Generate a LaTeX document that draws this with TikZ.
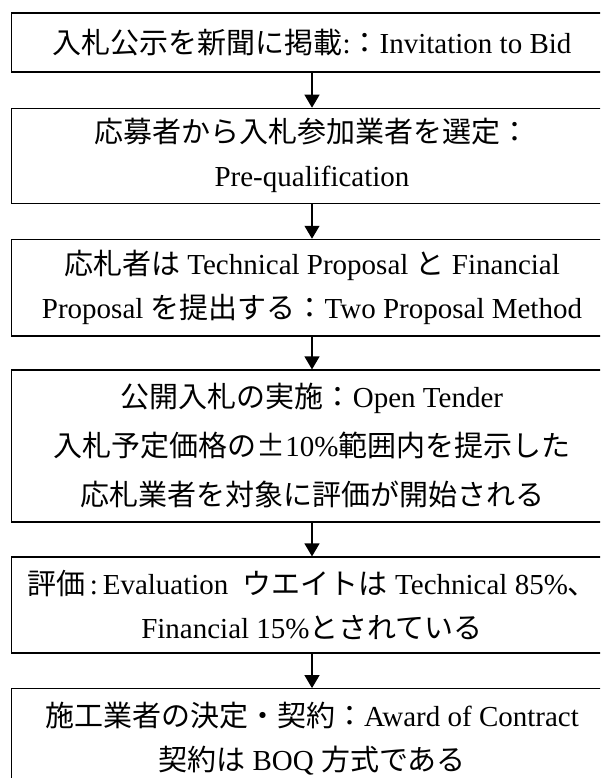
\documentclass[tikz,border=0pt]{standalone}
\usepackage{fontspec}
\setmainfont{Liberation Serif}
\newfontfamily\jp{Noto Sans CJK JP}
\newcommand{\J}[1]{{\jp #1}}
\usetikzlibrary{arrows.meta}
\tikzset{
  box/.style={draw, line width=1.2pt, minimum width=601pt, inner sep=0pt, align=center,
    font=\fontsize{29pt}{44pt}\selectfont},
  flow/.style={line width=1.2pt, -{Triangle[width=15pt,length=13pt]}}
}
\begin{document}
\begin{tikzpicture}[x=1pt,y=-1pt]
\useasboundingbox (0,0) rectangle (600,778);
\fill[white] (0,0) rectangle (600,778);
\clip (0,0) rectangle (600,778);
\node[box, minimum height=59pt] (b1) at (312,42.5)
  {\J{入札公示を新聞に掲載}:\J{：}Invitation to Bid};
\node[box, minimum height=95pt] (b2) at (312,155.8)
  {\J{応募者から入札参加業者を選定：}\\Pre-qualification};
\node[box, minimum height=96.7pt] (b3) at (312,287.7)
  {\J{応札者は} Technical Proposal \J{と} Financial\\Proposal \J{を提出する：}Two Proposal Method};
\node[box, minimum height=152pt, font=\fontsize{29pt}{49pt}\selectfont] (b4) at (312,446)
  {\J{公開入札の実施：}Open Tender\\\J{入札予定価格の±}10\%\J{範囲内を提示した}\\\J{応札業者を対象に評価が開始される}};
\node[box, minimum height=96pt] (b5) at (312,605)
  {\J{評価}\,:\,Evaluation\ \ \J{ウエイトは} Technical 85\%\J{、}\\Financial 15\%\J{とされている}};
\node[box, minimum height=100pt] (b6) at (312,738.7)
  {\J{施工業者の決定・契約：}Award of Contract\\\J{契約は} BOQ \J{方式である}};
\draw[flow] (b1) -- (b2);
\draw[flow] (b2) -- (b3);
\draw[flow] (b3) -- (b4);
\draw[flow] (b4) -- (b5);
\draw[flow] (b5) -- (b6);
\end{tikzpicture}
\end{document}
